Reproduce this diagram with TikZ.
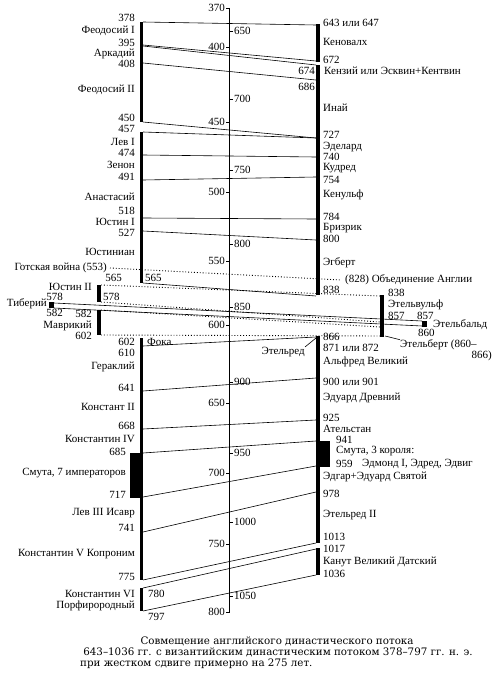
\documentclass[tikz,border=0pt]{standalone}
\usepackage{fontspec}
\setmainfont{Liberation Serif}
\newfontfamily\capfont{DejaVu Serif}
\usetikzlibrary{positioning}

\begin{document}
\begin{tikzpicture}[x=1pt,y=-1pt,font=\fontsize{11}{12}\selectfont,
  lab/.style={inner sep=0pt},
  lft/.style={lab,anchor=east},
  rgt/.style={lab,anchor=west},
  link/.style={line width=0.6pt},
  dots/.style={line width=0.9pt,dotted},
  bar/.style={fill=black}]
\useasboundingbox (0,0) rectangle (500,677);
% time axis
\coordinate (axtop) at (229.5,8);
\coordinate (axbot) at (229.5,613);
\draw[link] (axtop) -- (axbot);
\foreach \v/\y in {370/8,400/47,450/122,500/192,550/261,600/325,650/403,700/473,750/544,800/612}
  {\draw[link] (226,\y) -- (229.5,\y);
   \node[lft] (sl\v) at (225,\y) {\v};}
\foreach \v/\y in {650/31,700/99,750/170,800/244,850/307,900/382,950/453,1000/522,1050/596}
  {\draw[link] (229.5,\y) -- (233,\y);
   \node[rgt] (sr\v) at (234,\y) {\v};}
% byzantine bars
\fill[bar] (139.5,22) rectangle (143,122);
\fill[bar] (139.5,132) rectangle (143,283);
\fill[bar] (97,285) rectangle (100.5,302);
\fill[bar] (49,302) rectangle (54,308);
\fill[bar] (97,310) rectangle (100.5,335);
\fill[bar] (139.5,338) rectangle (143,453);
\fill[bar] (130,453) rectangle (143,498);
\fill[bar] (139.5,498) rectangle (143,580);
\fill[bar] (139.5,588) rectangle (143,611);
% english bars
\fill[bar] (316,24) rectangle (319.5,62);
\fill[bar] (316,65) rectangle (319.5,295);
\fill[bar] (380,295) rectangle (384,337);
\fill[bar] (422,321) rectangle (427,327);
\fill[bar] (316,336) rectangle (319.5,441);
\fill[bar] (316,441) rectangle (330,467);
\fill[bar] (316,467) rectangle (319.5,543);
\fill[bar] (316,548) rectangle (319.5,575);
% links between the two streams
\foreach \n/\a/\b in {1/22/25,2/45/61,3/46/65,4/63/80,5/122/138,6/132/138,
    7/155/157,8/180/177,9/218/219,10/231/240,11/283/296,12/346/337,
    13/391/378,14/429/420,15/453/441,16/497/466,17/532/492,18/580/543,
    19/588/549,20/611/575}
  {\coordinate (b\n) at (143,\a);
   \coordinate (e\n) at (316,\b);
   \draw[link] (b\n) -- (e\n);}
\coordinate (tib1) at (54,303);   \coordinate (bald1) at (422,321);
\coordinate (tib2) at (54,308);   \coordinate (bald2) at (422,326);
\draw[link] (tib1) -- (bald1);
\draw[link] (tib2) -- (bald2);
\coordinate (goth) at (110,268);  \coordinate (unif) at (341,280);
\coordinate (jus1) at (101,285);  \coordinate (wulf1) at (380,296);
\coordinate (jus2) at (101,302);  \coordinate (wulf2) at (380,322);
\coordinate (mav1) at (101,310);  \coordinate (bert1) at (380,327);
\coordinate (mav2) at (101,335);  \coordinate (bert2) at (380,336);
\draw[dots] (goth) -- (unif);
\draw[dots] (jus1) -- (wulf1);
\draw[dots] (jus2) -- (wulf2);
\draw[dots] (mav1) -- (bert1);
\draw[dots] (mav2) -- (bert2);
% byzantine labels
\foreach \y/\t [count=\i] in {18/378,31/Феодосий I,43/395,54/Аркадий,64/408,
    90/Феодосий II,118/450,129/457,142/Лев I,153/474,165/Зенон,177/491,
    197/Анастасий,211/518,222/Юстин I,233/527,252/Юстиниан,367/Гераклий,
    388/641,407/Констант II,426/668,439/Константин IV,513/Лев III Исавр,
    528/741,554/Константин V Копроним,577/775,594/Константин VI,
    606/Порфирородный}
  {\node[lft] (by\i) at (135,\y) {\t};}
\node[lft] (y685) at (126,452) {685};
\node[lft] (smuta7) at (126,473) {Смута, 7 императоров};
\node[lft] (y717) at (126,495) {717};
\node[lft] (gothic) at (107,268) {Готская война (553)};
\node[lft] (y565a) at (122,278) {565};
\node[rgt] (y565b) at (145,278) {565};
\node[lft] (justin) at (92,287) {Юстин II};
\node[lft] (y578a) at (63,297) {578};
\node[rgt] (y578b) at (103,297) {578};
\node[lft] (tiber) at (47,304) {Тиберий};
\node[lft] (y582a) at (63,313) {582};
\node[lft] (y582b) at (92,313.5) {582};
\node[lft] (mavr) at (92,326) {Маврикий};
\node[lft] (y602a) at (92,336) {602};
\node[lft] (y602b) at (135,342) {602};
\node[rgt] (foka) at (147,342) {Фока};
\node[lft] (y610) at (135,353) {610};
\node[rgt] (y780) at (148,594) {780};
\node[rgt] (y797) at (148,617) {797};
% english labels
\foreach \y/\t [count=\i] in {23/643 или 647,42/Кеновалх,60/672,108/Инай,
    135/727,147/Эделард,157/740,168/Кудред,180/754,195/Кенульф,217/784,
    228/Бризрик,239/800,263/Эгберт,290/838,337/866,348/871 или 872,
    362/Альфред Великий,382/900 или 901,398/Эдуард Древний,418/925,
    429/Ательстан,477/Эдгар+Эдуард Святой,494/978,515/Этельред II,
    537/1013,549/1017,562/Канут Великий Датский,574/1036}
  {\node[rgt] (en\i) at (323,\y) {\t};}
\node[lft] (y674) at (315,71) {674};
\node[rgt] (kenz) at (324,71) {Кензий или Эсквин+Кентвин};
\node[lft] (y686) at (315,87) {686};
\node[rgt] (unite) at (345,280) {(828) Объединение Англии};
\node[rgt] (y838) at (388,293) {838};
\node[rgt] (ethw) at (388,305) {Этельвульф};
\node[rgt] (y857a) at (388,316) {857};
\node[rgt] (y857b) at (417,316) {857};
\node[rgt] (ethb) at (433,325) {Этельбальд};
\node[rgt] (y860) at (418,333) {860};
\node[rgt] (ethbert) at (400,345) {Этельберт (860–};
\node[lft] (y866) at (492,356) {866)};
\node[lft] (ethred) at (305,352) {Этельред};
\node[rgt] (y941) at (336,440) {941};
\node[rgt] (smuta3) at (336,451) {Смута, 3 короля:};
\node[rgt] (y959) at (336,464) {959};
\node[rgt] (kings) at (362,464) {Эдмонд I, Эдред, Эдвиг};
\coordinate (redtip) at (316,338);
\coordinate (berttip) at (385,336);
\draw[link] (redtip) -- (ethred.north east);
\draw[link] (berttip) -- (ethbert.north west);
% caption
\node[lab,font=\capfont\fontsize{10.3}{12}\selectfont] (cap1) at (277,641) {Совмещение английского династического потока};
\node[lab,font=\capfont\fontsize{10.3}{12}\selectfont] (cap2) at (278,652) {643–1036 гг. с византийским династическим потоком 378–797 гг. н. э.};
\node[lab,anchor=west,font=\capfont\fontsize{10.3}{12}\selectfont] (cap3) at (80,664) {при жестком сдвиге примерно на 275 лет.};
\end{tikzpicture}
\end{document}
